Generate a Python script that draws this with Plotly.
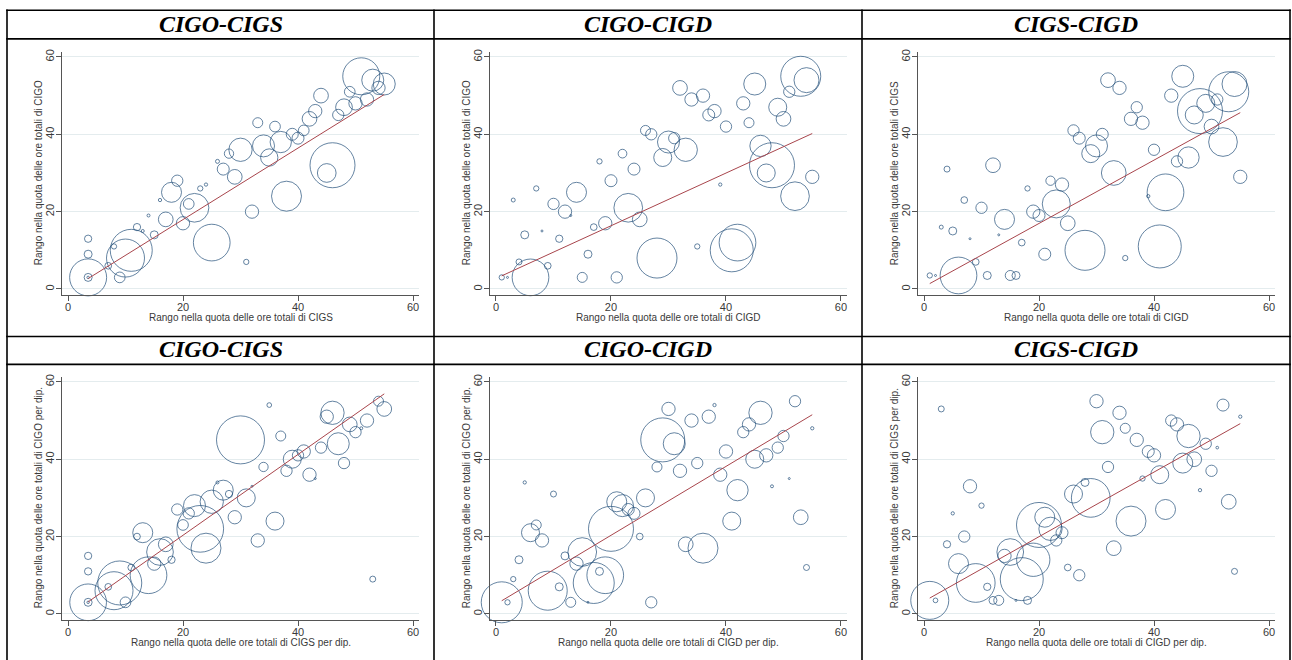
import plotly.graph_objects as go

# ---------------- data ----------------
headers = ["CIGO-CIGS", "CIGO-CIGD", "CIGS-CIGD"]
x_titles = [
    "Rango nella quota delle ore totali di CIGS",
    "Rango nella quota delle ore totali di CIGD",
    "Rango nella quota delle ore totali di CIGD",
    "Rango nella quota delle ore totali di CIGS per dip.",
    "Rango nella quota delle ore totali di CIGD per dip.",
    "Rango nella quota delle ore totali di CIGD per dip.",
]
y_titles = [
    "Rango nella quota delle ore totali di CIGO",
    "Rango nella quota delle ore totali di CIGO",
    "Rango nella quota delle ore totali di CIGS",
    "Rango nella quota delle ore totali di CIGO per dip.",
    "Rango nella quota delle ore totali di CIGO per dip.",
    "Rango nella quota delle ore totali di CIGS per dip.",
]
tick_vals = [0, 20, 40, 60]

p1_x = [3.5, 3.5, 3.5, 3.5, 3.5, 7, 8, 9, 11, 10, 12, 13, 14, 15, 16, 17, 18, 19, 20, 22, 21,
        23, 24, 25, 26, 27, 28, 29, 30, 31, 32, 33, 34, 35, 36, 37, 38, 39, 40, 41, 42, 43, 44,
        45, 46, 47, 48, 49, 50, 51, 52, 53, 54, 55]
p1_y = [3, 3, 3, 13, 9, 6, 11, 3, 10, 8, 16, 15, 19, 14, 23, 18, 25, 28, 17, 21, 22,
        26, 27, 12, 33, 31, 35, 29, 36, 7, 20, 43, 37, 34, 42, 38, 24, 40, 39, 41, 44, 46, 50,
        30, 32, 45, 47, 51, 48, 55, 49, 54, 52, 53]
p1_w = [37, 8, 2.5, 7.3, 8, 6.7, 5.3, 10.7, 42, 38, 7.3, 3, 3, 8, 3.3, 14.7, 20, 11.3, 13.3, 28.7, 10.7,
        5.3, 3.3, 36.7, 4, 12, 9.3, 14.7, 23.3, 5.3, 13.3, 10, 22, 17.3, 10.7, 21.3, 30, 12, 12, 10.7,
        14.7, 13.3, 14.7, 18.7, 45, 11.3, 16.7, 10.7, 13.3, 37, 13.3, 22, 13.3, 22]

p2_x = [1, 2, 3, 4, 5, 6, 7, 8, 9, 10, 11, 12, 13, 14, 15, 16, 17, 18, 19, 20, 21, 22, 23, 24, 25,
        26, 27, 28, 29, 30, 31, 32, 33, 34, 35, 36, 37, 38, 39, 40, 41, 42, 43, 44, 45, 46, 47, 48,
        49, 50, 51, 52, 53, 54, 55]
p2_y = [3, 3, 23, 7, 14, 3, 26, 15, 6, 22, 13, 20, 19, 25, 3, 9, 16, 33, 17, 28,
        3, 35, 21, 31, 18, 41, 40, 8, 34, 38, 39, 52, 36, 49, 11, 50, 45, 46, 27, 42,
        10, 12, 48, 43, 53, 37, 30, 32, 47, 44, 51, 24, 55, 54, 29]
p2_w = [5.3, 2, 4, 6, 8, 36.7, 5.3, 2, 6.7, 11.3, 7.3, 13.3, 2, 20, 10, 8, 6.7, 5.3, 13.3, 12,
        11.3, 8.7, 28.7, 12, 14.7, 10, 11.3, 40, 18, 22, 11.3, 14.7, 23.3, 13.3, 5.3, 13.3, 12, 13.3,
        3.3, 11.3, 43, 36.7, 13.3, 10, 22, 21.3, 18, 45, 18, 14.7, 11.3, 28.7, 40, 25, 13.3]

p3_x = [1, 2, 3, 4, 5, 6, 7, 8, 9, 10, 11, 12, 13, 14, 15, 16, 17, 18, 19, 20, 21, 22, 23, 24, 25,
        26, 27, 28, 29, 30, 31, 32, 33, 34, 35, 36, 37, 38, 39, 40, 41, 42, 43, 44, 45, 46, 47, 48,
        49, 50, 51, 52, 53, 54, 55]
p3_y = [3.5, 3.5, 16, 31, 15, 3.5, 23, 13, 7, 21, 3.5, 32, 14, 18, 3.5, 3.5, 12, 26, 20, 19,
        9, 28, 22, 27, 17, 41, 39, 10, 35, 37, 40, 54, 30, 52, 8, 44, 47, 43, 24, 36,
        11, 25, 50, 33, 55, 34, 45, 46, 48, 42, 49, 38, 51, 53, 29]
p3_w = [5.3, 2, 4, 6, 8, 36.7, 6.7, 2, 6.7, 11.3, 8, 14.7, 2, 20, 10, 8, 6.7, 5.3, 13.3, 12,
        12, 9.3, 28, 13.3, 14.7, 11.3, 12, 40, 18, 22, 12, 14.7, 24.7, 13.3, 5.3, 13.3, 11.3, 13.3,
        3.3, 11.3, 43, 36.7, 13.3, 11.3, 22, 21.3, 18, 45, 18, 14.7, 11.3, 28.7, 40, 25, 13.3]

p4_x = [3.5, 3.5, 3.5, 3.5, 3.5, 7, 8, 9, 10, 11, 12, 13, 14, 15, 16, 17, 18, 19, 20, 21, 22, 23,
        24, 25, 26, 27, 28, 29, 30, 31, 32, 33, 34, 35, 36, 37, 38, 39, 40, 41, 42, 43, 44, 45, 46,
        47, 48, 49, 50, 51, 52, 53, 54, 55]
p4_y = [3, 3, 3, 15, 11, 7, 6, 8, 3, 12, 20, 21, 10, 13, 16, 18, 14, 27, 23, 26, 28, 22,
        17, 29, 34, 32, 31, 25, 45, 30, 33, 19, 38, 54, 24, 46, 37, 40, 41, 42, 36, 35, 43, 51, 52,
        44, 39, 49, 47, 48, 50, 9, 55, 53]
p4_w = [36.7, 8, 2.5, 7.3, 7.3, 6.7, 38, 44, 10.7, 6.7, 6.7, 20, 36.7, 13.3, 26.7, 14.7, 7.3, 11.3,
        10.7, 11.3, 22, 46.7, 30, 23.3, 3, 20, 7.3, 13.3, 48, 18, 2, 13.3, 9.3, 4.7, 18, 10, 11.3,
        18, 11.3, 13.3, 13.3, 2, 11.3, 13.3, 23.3, 22, 11.3, 14.7, 11.3, 3, 13.3, 6, 10, 14.7]

p5_x = [1, 2, 3, 4, 5, 6, 7, 8, 9, 10, 11, 12, 13, 14, 15, 16, 17, 18, 19, 20, 21, 22, 23, 24, 25,
        26, 27, 28, 29, 30, 31, 32, 33, 34, 35, 36, 37, 38, 39, 40, 41, 42, 43, 44, 45, 46, 47, 48,
        49, 50, 51, 52, 53, 54, 55]
p5_y = [3, 3, 9, 14, 34, 21, 23, 19, 6, 31, 7, 15, 3, 13, 16, 3, 8, 11, 10, 22,
        29, 28, 27, 26, 20, 30, 3, 38, 45, 53, 44, 37, 18, 50, 39, 17, 51, 54, 36, 42,
        24, 32, 47, 49, 40, 52, 41, 33, 43, 46, 35, 55, 25, 12, 48]
p5_w = [41, 5.3, 5.3, 8, 3.3, 18, 10, 13.3, 39, 6, 8, 8, 10, 13.3, 28.7, 2, 41, 8, 36.7, 45,
        20, 22, 12, 12, 6.7, 18, 11.3, 10, 44, 13.3, 22, 13.3, 14.7, 13.3, 11.3, 30, 13.3, 3.3, 13.3,
        13.3, 18, 21.3, 11.3, 13.3, 18, 23.3, 13.3, 3, 11.3, 11.3, 2, 11.3, 14.7, 6, 3.3]

p6_x = [1, 2, 3, 4, 5, 6, 7, 8, 9, 10, 11, 12, 13, 14, 15, 16, 17, 18, 19, 20, 21, 22, 23, 24, 25,
        26, 27, 28, 29, 30, 31, 32, 33, 34, 35, 36, 37, 38, 39, 40, 41, 42, 43, 44, 45, 46, 47, 48,
        49, 50, 51, 52, 53, 54, 55]
p6_y = [3.5, 3.5, 53, 18, 26, 13, 20, 33, 8, 28, 7, 3.5, 3.5, 15, 16, 3.5, 9, 3.5, 14, 23,
        25, 22, 19, 21, 12, 31, 10, 34, 30, 55, 47, 38, 17, 52, 48, 24, 45, 35, 42, 41,
        36, 27, 50, 49, 39, 46, 40, 32, 44, 37, 43, 54, 29, 11, 51]
p6_w = [38, 4.7, 6, 7.3, 3.3, 20, 11.3, 13.3, 38.7, 5.3, 7.3, 8, 10, 13.3, 26.7, 2, 43, 8, 33.3, 45,
        20, 23.3, 11.3, 12, 6.7, 18, 11.3, 8, 38.7, 13.3, 23.3, 11.3, 14.7, 13.3, 10, 30, 13.3, 5.3,
        12, 13.3, 18, 20, 11.3, 13.3, 20, 23.3, 14.7, 3.3, 11.3, 11.3, 2.7, 12, 14.7, 6, 3.3]

# fitted lines (endpoints)
fit_x = [[3.5, 55], [1, 55], [1, 55], [3.5, 55], [1, 55], [1, 55]]
fit_y = [[2.7, 50.3], [3.4, 40.2], [1.4, 45.6], [3.1, 56.9], [3.4, 51.5], [4.1, 49.2]]

panels = [(p1_x, p1_y, p1_w), (p2_x, p2_y, p2_w), (p3_x, p3_y, p3_w),
          (p4_x, p4_y, p4_w), (p5_x, p5_y, p5_w), (p6_x, p6_y, p6_w)]

# ---------------- layout geometry (pixels) ----------------
W, H = 1292, 660
X0 = [68, 496, 924, 68, 496, 924]          # pixel of x = 0
Y0 = [287.3, 287.3, 287.3, 613.7, 613.7, 613.7]  # pixel of y = 0
SX, SY = 5.75, 3.885
XR = [-1.1, 61.1]
YR = [-1.6, 61.2]

def px(x):
    return x / W

def py(y):
    return 1 - y / H

CIRCLE = "#24507a"
FIT = "#a8454c"
AXC = "#555555"
TICKFONT = dict(family="Liberation Sans, Arial", size=11, color="#3a3a3a")

fig = go.Figure()
layout = dict(
    width=W, height=H, margin=dict(l=0, r=0, t=0, b=0, pad=0),
    paper_bgcolor="white", plot_bgcolor="white", showlegend=False,
)
annotations = []
shapes = []

for i, (xs, ys, ws) in enumerate(panels):
    k = "" if i == 0 else str(i + 1)
    fig.add_trace(go.Scatter(
        x=xs, y=ys, mode="markers", xaxis="x" + k, yaxis="y" + k,
        cliponaxis=False, hoverinfo="skip",
        marker=dict(symbol="circle-open", size=ws, sizemode="diameter", sizeref=1,
                    color=CIRCLE, line=dict(width=1, color=CIRCLE)),
    ))
    fig.add_trace(go.Scatter(
        x=fit_x[i], y=fit_y[i], mode="lines", xaxis="x" + k, yaxis="y" + k,
        line=dict(color=FIT, width=1), hoverinfo="skip", cliponaxis=False,
    ))
    xd = [px(X0[i] + XR[0] * SX), px(X0[i] + XR[1] * SX)]
    yd = [py(Y0[i] - YR[0] * SY), py(Y0[i] - YR[1] * SY)]
    layout["xaxis" + k] = dict(
        domain=xd, range=XR, anchor="y" + k, showline=True, linecolor=AXC, linewidth=1,
        ticks="outside", ticklen=5, tickcolor=AXC, tickvals=tick_vals, showgrid=False,
        zeroline=False, tickfont=TICKFONT, fixedrange=True, ticklabelstandoff=-3,
    )
    layout["yaxis" + k] = dict(
        domain=yd, range=YR, anchor="x" + k, showline=True, linecolor=AXC, linewidth=1,
        ticks="outside", ticklen=5, tickcolor=AXC, tickvals=tick_vals, tickangle=-90,
        showgrid=True, gridcolor="#e4ecee", gridwidth=1, zeroline=False,
        tickfont=TICKFONT, fixedrange=True, ticklabelstandoff=-3,
    )
    annotations.append(dict(
        text=x_titles[i], xref="paper", yref="paper",
        x=px(X0[i] + 30 * SX), y=py(Y0[i] + 29), xanchor="center", yanchor="middle",
        showarrow=False, font=dict(family="Liberation Sans, Arial", size=10, color="#3a3a3a"),
    ))
    annotations.append(dict(
        text=y_titles[i], xref="paper", yref="paper", textangle=-90,
        x=px(X0[i] - 28.7), y=py(Y0[i] - 30 * SY), xanchor="center", yanchor="middle",
        showarrow=False, font=dict(family="Liberation Sans, Arial", size=10, color="#3a3a3a"),
    ))

# header cells
col_centers = [220.5, 648, 1076]
row_centers = [21, 347.5]
for r in row_centers:
    for c, h in zip(col_centers, headers):
        annotations.append(dict(
            text="<b><i>" + h + "</i></b>", xref="paper", yref="paper",
            x=px(c), y=py(r), xanchor="center", yanchor="middle", showarrow=False,
            font=dict(family="Liberation Serif, Times New Roman", size=24, color="black"),
        ))

# table rules
vx = [7, 434, 862, 1290]
hy = [7.3, 36, 335, 363]
for x in vx:
    shapes.append(dict(type="line", xref="paper", yref="paper",
                       x0=px(x), x1=px(x), y0=py(6.5), y1=py(662),
                       line=dict(color="black", width=1.6)))
for y in hy:
    shapes.append(dict(type="line", xref="paper", yref="paper",
                       x0=px(6.2), x1=px(1290.8), y0=py(y), y1=py(y),
                       line=dict(color="black", width=1.6)))

layout["annotations"] = annotations
layout["shapes"] = shapes
fig.update_layout(**layout)
fig.write_html(
    "out.html",
    config={"displayModeBar": False, "staticPlot": True},
    post_script="document.body.style.margin='0';document.body.style.overflow='hidden';",
)
